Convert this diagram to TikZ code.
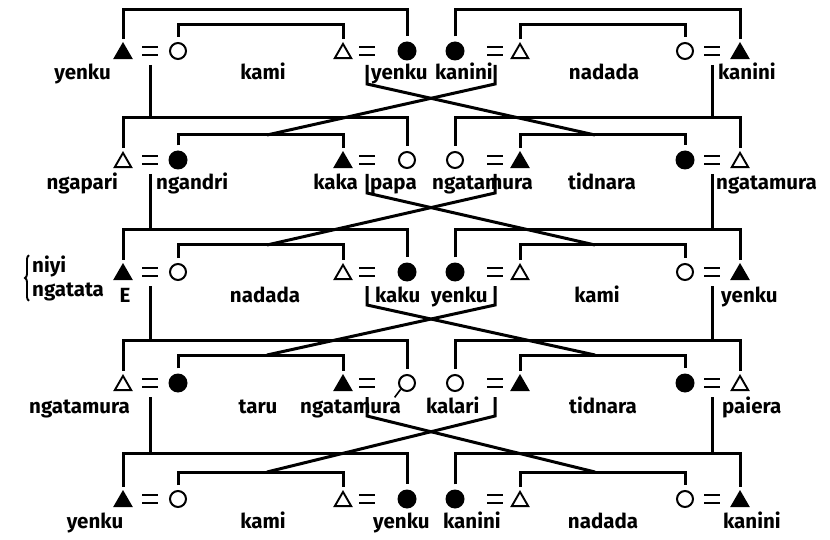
\documentclass[tikz,border=0pt]{standalone}
\usepackage{fontspec}
\setmainfont{Fira Sans}
\usetikzlibrary{calc,shapes.geometric,decorations.pathreplacing}

\begin{document}
\begin{tikzpicture}[x=1pt, y=-1pt,
    kin/.style={line width=3pt},
    eqbar/.style={line width=2.4pt},
    mtri/.style={regular polygon, regular polygon sides=3, minimum size=19pt,
      inner sep=0pt, outer sep=0pt, draw, line width=1.9pt, yshift=-2.4pt},
    fmale/.style={mtri, fill=black},
    omale/.style={mtri, fill=white},
    ffem/.style={circle, fill=black, minimum size=19pt, inner sep=0pt},
    ofem/.style={circle, draw, line width=2pt, minimum size=16pt, inner sep=0pt},
    lbl/.style={font=\fontsize{20.5}{24}\selectfont\bfseries, inner sep=0pt}]
    \useasboundingbox (0,0) rectangle (830,540);
    % symbols, marriages and sibling brackets, row by row
    \foreach \y/\yo/\yi/\sa/\sb/\sc/\sd [count=\r] in
      {51/10/25/fmale/ofem/omale/ffem, 160/118/135/omale/ffem/fmale/ofem,
       272/230/245/fmale/ofem/omale/ffem, 383/340/355/omale/ffem/fmale/ofem,
       499/453/472/fmale/ofem/omale/ffem} {
      \node[\sa] (s\r a) at (123,\y) {};
      \node[\sb] (s\r b) at (178,\y) {};
      \node[\sc] (s\r c) at (343,\y) {};
      \node[\sd] (s\r d) at (407,\y) {};
      \node[\sd] (s\r e) at (455,\y) {};
      \node[\sc] (s\r f) at (520,\y) {};
      \node[\sb] (s\r g) at (685,\y) {};
      \node[\sa] (s\r h) at (740,\y) {};
      \coordinate (m\r1) at (150,\y);
      \coordinate (m\r2) at (367,\y);
      \coordinate (m\r3) at (495,\y);
      \coordinate (m\r4) at (712,\y);
      \foreach \k in {1,...,4}
        \draw[eqbar] ($(m\r\k)+(-8,-4)$) -- +(16,0) ($(m\r\k)+(-8,4)$) -- +(16,0);
      \draw[kin] ([yshift=5pt]s\r a.north) -- (s\r a |- 0,\yo) -- (s\r d |- 0,\yo) -- ([yshift=5pt]s\r d.north);
      \draw[kin] ([yshift=5pt]s\r b.north) -- (s\r b |- 0,\yi) -- (s\r c |- 0,\yi) -- ([yshift=5pt]s\r c.north);
      \draw[kin] ([yshift=5pt]s\r e.north) -- (s\r e |- 0,\yo) -- (s\r h |- 0,\yo) -- ([yshift=5pt]s\r h.north);
      \draw[kin] ([yshift=5pt]s\r f.north) -- (s\r f |- 0,\yi) -- (s\r g |- 0,\yi) -- ([yshift=5pt]s\r g.north);
    }
    % descent lines to the next row
    \foreach \r/\n/\yo/\yi in {1/2/118/135, 2/3/230/245, 3/4/340/355, 4/5/453/472} {
      \coordinate (x\n r) at (595,\yi);
      \coordinate (x\n l) at (267,\yi);
      \draw[kin] ([yshift=-14pt]m\r1) -- (m\r1 |- 0,\yo);
      \draw[kin] ([yshift=-14pt]m\r4) -- (m\r4 |- 0,\yo);
      \draw[kin] ([yshift=-14pt]m\r2) -- ++(0,19) -- (x\n r);
      \draw[kin] ([yshift=-14pt]m\r3) -- ++(0,19) -- (x\n l);
    }
    \draw[line width=1.6pt] (s4d.south west) -- ++(-6,8);
    % row 1
    \node[lbl, anchor=base east] (t1a) at (111,80) {yenku};
    \node[lbl, anchor=base] (t1b) at (263,80) {kami};
    \node[lbl, anchor=base west] (t1c) at (371,80) {yenku};
    \node[lbl, anchor=base west] (t1d) at (435,80) {kanini};
    \node[lbl, anchor=base] (t1e) at (604,80) {nadada};
    \node[lbl, anchor=base west] (t1f) at (718,80) {kanini};
    % row 2
    \node[lbl, anchor=base east] (t2a) at (118,190) {ngapari};
    \node[lbl, anchor=base west] (t2b) at (156,190) {ngandri};
    \node[lbl, anchor=base east] (t2c) at (358,190) {kaka};
    \node[lbl, anchor=base west] (t2d) at (370,190) {papa};
    \node[lbl, anchor=base west] (t2e) at (432,190) {ngatamura};
    \node[lbl, anchor=base] (t2f) at (602,190) {tidnara};
    \node[lbl, anchor=base west] (t2g) at (716,190) {ngatamura};
    % row 3
    \node[lbl, anchor=west, align=left] (t3a) at (32,278) {niyi\\ngatata};
    \draw[decorate, decoration={brace, amplitude=4pt}, line width=1.9pt]
      ([xshift=-3pt]t3a.south west) -- ([xshift=-3pt]t3a.north west);
    \node[lbl, anchor=base] (t3b) at (125,302) {E};
    \node[lbl, anchor=base] (t3c) at (265,302) {nadada};
    \node[lbl, anchor=base west] (t3d) at (375,302) {kaku};
    \node[lbl, anchor=base west] (t3e) at (431,302) {yenku};
    \node[lbl, anchor=base] (t3f) at (597,302) {kami};
    \node[lbl, anchor=base west] (t3g) at (721,302) {yenku};
    % row 4
    \node[lbl, anchor=base east] (t4a) at (130,413) {ngatamura};
    \node[lbl, anchor=base] (t4b) at (258,413) {taru};
    \node[lbl, anchor=base west] (t4c) at (300,413) {ngatamura};
    \node[lbl, anchor=base west] (t4d) at (426,413) {kalari};
    \node[lbl, anchor=base] (t4e) at (603,413) {tidnara};
    \node[lbl, anchor=base west] (t4f) at (722,413) {paiera};
    % row 5
    \node[lbl, anchor=base] (t5a) at (95,528) {yenku};
    \node[lbl, anchor=base] (t5b) at (263,528) {kami};
    \node[lbl, anchor=base west] (t5c) at (373,528) {yenku};
    \node[lbl, anchor=base west] (t5d) at (443,528) {kanini};
    \node[lbl, anchor=base] (t5e) at (603,528) {nadada};
    \node[lbl, anchor=base west] (t5f) at (723,528) {kanini};
\end{tikzpicture}
\end{document}
